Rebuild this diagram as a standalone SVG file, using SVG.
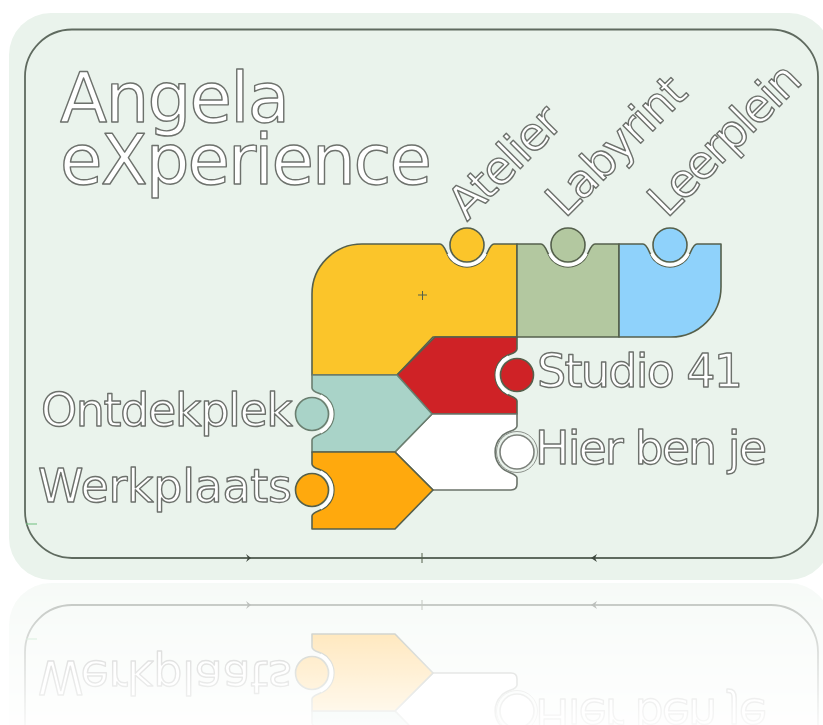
<svg xmlns="http://www.w3.org/2000/svg" xmlns:xlink="http://www.w3.org/1999/xlink" width="823" height="725" viewBox="0 0 823 725">
<style>
.lbl{font-family:"DejaVu Sans","Liberation Sans",sans-serif;fill:#fff;stroke:#6d716c;stroke-width:1.4;font-size:46px;stroke-linejoin:round}
.ttl{font-size:69px}
.sh{stroke:#55604c;stroke-width:1.6;stroke-linejoin:round}
.dot{stroke:#55604c;stroke-width:1.6}
.ring{fill:none;stroke:#fff;stroke-width:3.5}
.line{fill:none;stroke:#5f6a5f;stroke-width:1.8}
.mark{fill:none;stroke:#55604c;stroke-width:1}
</style>
<defs>
<linearGradient id="fade" gradientUnits="userSpaceOnUse" x1="0" y1="581" x2="0" y2="725">
<stop offset="0" stop-color="#fff" stop-opacity=".42"/>
<stop offset=".4" stop-color="#fff" stop-opacity=".25"/>
<stop offset="1" stop-color="#fff" stop-opacity=".05"/>
</linearGradient>
<mask id="reflectMask" maskUnits="userSpaceOnUse" x="0" y="581" width="823" height="144">
<rect x="0" y="581" width="823" height="144" fill="url(#fade)"/>
</mask>
<filter id="soft" x="0" y="0" width="100%" height="100%"><feGaussianBlur stdDeviation=".45"/></filter>
</defs>
<rect width="823" height="725" fill="#fff"/>
<g mask="url(#reflectMask)"><use href="#scene" transform="matrix(1 0 0 -1 0 1163)"/></g>
<g id="scene" filter="url(#soft)">
<rect id="panel" x="9" y="13" width="822" height="567" rx="42" fill="#eaf3ec"/>
<g id="connectors">
<path class="line" d="M72 29.5H771A47 47 0 0 1 818 76.5V511A47 47 0 0 1 771 558H72A47 47 0 0 1 25 511V76.5A47 47 0 0 1 72 29.5Z"/>
<path d="M246 554L251 558L246 562L248 558Z" fill="#3e463e"/>
<path d="M597 554L591 558L597 562L595 558Z" fill="#3e463e"/>
<path class="mark" d="M422 553V563"/>
<path d="M26 524H37" stroke="#6fbf7f" stroke-width="1" fill="none"/>
</g>
<g id="title">
<text class="lbl ttl" x="60" y="122" textLength="230" lengthAdjust="spacing">Angela</text>
<text class="lbl ttl" x="60" y="184" textLength="372" lengthAdjust="spacing">eXperience</text>
</g>
<g id="atelier">
<path class="sh" fill="#fbc52b" d="M362 244H440C445 244 446 255 451.500 260.500A22 22 0 0 0 482.500 260.500C488 255 489 244 494 244H517V337H433L397 375H312V294A50 50 0 0 1 362 244Z"/>
<path class="ring" d="M448.900 253.500A20 20 0 0 0 485.100 253.500"/>
<circle class="dot" cx="467" cy="245" r="17" fill="#fbc52b"/>
<path class="mark" d="M418 295H427M422.500 291V300"/>
<text class="lbl" transform="translate(467 222) rotate(-45)" textLength="138" lengthAdjust="spacing">Atelier</text>
</g>
<g id="labyrint">
<path class="sh" fill="#b3c8a0" d="M517 244H541C546 244 547 255 552.500 260.500A22 22 0 0 0 583.500 260.500C589 255 590 244 595 244H619V337H517Z"/>
<path class="ring" d="M549.900 253.500A20 20 0 0 0 586.100 253.500"/>
<circle class="dot" cx="568" cy="245" r="17" fill="#b3c8a0"/>
<text class="lbl" transform="translate(565 219) rotate(-45)" textLength="176" lengthAdjust="spacing">Labyrint</text>
</g>
<g id="leerplein">
<path class="sh" fill="#8fd2fb" d="M619 244H643C648 244 649 255 654.500 260.500A22 22 0 0 0 685.500 260.500C691 255 692 244 697 244H721V287A50 50 0 0 1 671 337H619Z"/>
<path class="ring" d="M651.900 253.500A20 20 0 0 0 688.100 253.500"/>
<circle class="dot" cx="670" cy="245" r="17" fill="#8fd2fb"/>
<text class="lbl" transform="translate(667 219) rotate(-45)" textLength="194" lengthAdjust="spacing">Leerplein</text>
</g>
<g id="studio41">
<path class="sh" fill="#cf2427" d="M435 337H517V349C517 354 506 354 501.500 359.500A22 22 0 0 0 501.500 390.500C506 396 517 396 517 401V414H432L397 375Z"/>
<path class="ring" d="M508.500 357A20 20 0 0 0 508.500 393"/>
<circle class="dot" cx="517" cy="375" r="16.500" fill="#cf2427"/>
<text class="lbl" x="537" y="387" textLength="206" lengthAdjust="spacing">Studio 41</text>
</g>
<g id="hierbenje">
<path class="sh" fill="#fff" style="stroke:#6b736a" d="M432 414H517V426C517 431 506 431 501.500 436.500A22 22 0 0 0 501.500 467.500C506 473 517 473 517 478V484Q517 490 511 490H433L395 452Z"/>
<circle class="dot" cx="517" cy="452" r="17" fill="#fff" style="stroke:#7d827c"/>
<circle cx="517" cy="452" r="20.500" fill="none" stroke="#8d928c" stroke-width="1"/>
<text class="lbl" x="535" y="464" textLength="232" lengthAdjust="spacing">Hier ben je</text>
</g>
<g id="ontdekplek">
<path class="sh" fill="#a9d3c8" style="stroke:#6b7f70" d="M312 375H397L432 414L395 452H312V440C312 435 323 435 327.500 429.500A22 22 0 0 0 327.500 398.500C323 393 312 393 312 388Z"/>
<path class="ring" d="M320.500 396A20 20 0 0 1 320.500 432"/>
<circle class="dot" cx="312" cy="414" r="16.500" fill="#a9d3c8" style="stroke:#6b7f70"/>
<text class="lbl" x="41" y="426" textLength="252" lengthAdjust="spacing">Ontdekplek</text>
</g>
<g id="werkplaats">
<path class="sh" fill="#ffa90a" d="M312 452H395L433 490L395 529H312V516C312 511 323 511 327.500 505.500A22 22 0 0 0 327.500 474.500C323 469 312 469 312 464Z"/>
<path class="ring" d="M320.500 472A20 20 0 0 1 320.500 508"/>
<circle class="dot" cx="312" cy="490" r="16.500" fill="#ffa90a"/>
<text class="lbl" x="38" y="502" textLength="254" lengthAdjust="spacing">Werkplaats</text>
</g>
</g>
</svg>
